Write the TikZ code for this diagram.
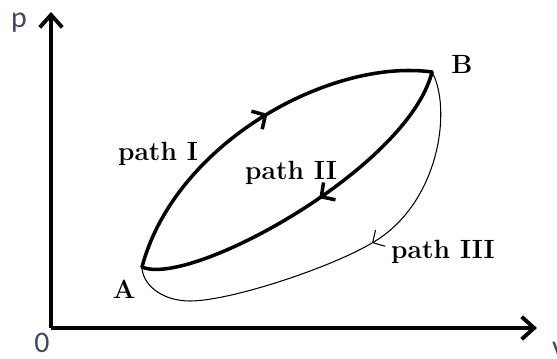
\documentclass[tikz,border=0pt]{standalone}
\usepackage{fontspec}
\newfontfamily\axisfont{Carlito}
\usetikzlibrary{arrows.meta, positioning, calc, decorations.markings}
\definecolor{axislbl}{RGB}{60,72,100}

\begin{document}
\begin{tikzpicture}[x=0.02cm, y=0.02cm,
  axis/.style={line width=2.2pt, -{Straight Barb[length=0.25cm, width=0.45cm]}},
  thickpath/.style={line width=2pt, line cap=round, line join=round},
  thinpath/.style={line width=0.6pt},
  midarrow/.style={postaction={decorate}, decoration={markings,
      mark=at position #1 with {\arrow{Straight Barb[length=0.2cm, width=0.42cm]}}}},
  lbl/.style={font=\fontsize{15}{18}\selectfont\bfseries},
  axlbl/.style={font=\axisfont\fontsize{17}{20}\selectfont, text=axislbl}]
\useasboundingbox (0,0) rectangle (557,358);

% axes
\coordinate (O) at (51,30);
\coordinate (ytip) at (51,346);
\coordinate (xtip) at (537,30);
\draw[axis] (O) -- (ytip);
\draw[axis] (O) -- (xtip);
\node[axlbl] (plbl) at (19,335) {p};
\node[axlbl] (zero) at (42,15) {0};
\node[axlbl, anchor=west] (vlbl) at (546,9) {v};

% states
\coordinate (A) at (142,91);
\coordinate (B) at (432,286);
\coordinate (m3) at (372,115);
\coordinate (low3) at (190,57);
\node[lbl] (lblA) at (124,69) {A};
\node[lbl] (lblB) at (462,294) {B};

% path I and path II
\draw[thickpath, midarrow=0.54] (A) .. controls (175,215) and (330,300) .. (B);
\draw[thickpath, midarrow=0.47] (B) .. controls (408,190) and (190,70) .. (A);

% path III
\draw[thinpath, -{Straight Barb[length=0.18cm, width=0.38cm]}] (B) .. controls (452,250) and (440,155) .. (m3);
\draw[thinpath] (m3) .. controls (330,90) and (230,57) .. (low3) .. controls (160,57) and (142,75) .. (A);

\node[lbl] (lbl1) at (158,204) {path I};
\node[lbl] (lbl2) at (291,185) {path II};
\node[lbl] (lbl3) at (443,106) {path III};
\end{tikzpicture}
\end{document}
